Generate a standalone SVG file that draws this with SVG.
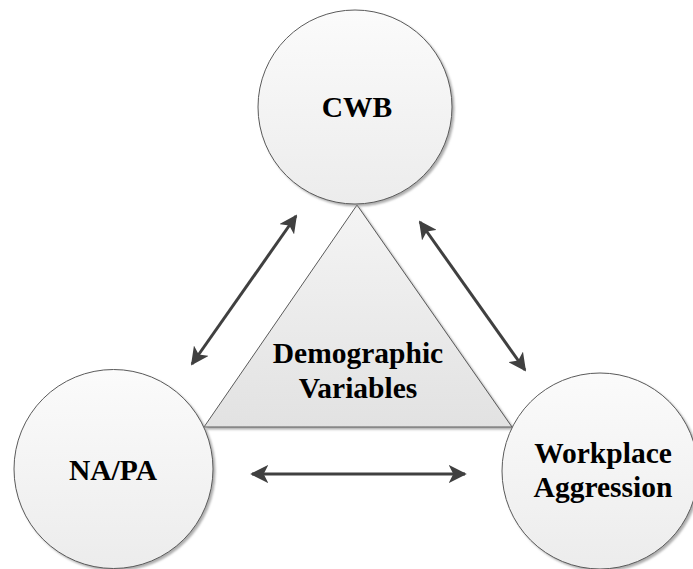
<svg xmlns="http://www.w3.org/2000/svg" width="693" height="569" viewBox="0 0 693 569">
<style>
.node{stroke:#5a5a5a;stroke-width:1}
.circ{fill:url(#gc)}
.tri{fill:url(#gt)}
.lbl{font-family:"Liberation Serif","Times New Roman",serif;font-weight:bold;font-size:29.5px;fill:#000;text-anchor:middle}
.conn{stroke:#404040;stroke-width:3;fill:none;marker-start:url(#ah);marker-end:url(#ah)}
</style>
<defs>
<linearGradient id="gc" x1="0" y1="0" x2="0" y2="1">
<stop offset="0" stop-color="#fbfbfb"/>
<stop offset="1" stop-color="#ececec"/>
</linearGradient>
<linearGradient id="gt" x1="0" y1="0" x2="0" y2="1">
<stop offset="0" stop-color="#f4f4f4"/>
<stop offset="1" stop-color="#e2e2e2"/>
</linearGradient>
<filter id="sh" x="-10%" y="-10%" width="125%" height="125%">
<feDropShadow dx="2" dy="2" stdDeviation="1.2" flood-color="#8a8a8a" flood-opacity="0.7"/>
</filter>
<marker id="ah" viewBox="0 0 20 20" refX="18" refY="10" markerWidth="6" markerHeight="6" orient="auto-start-reverse" markerUnits="strokeWidth">
<path d="M0,0 L20,10 L0,20 L5,10 Z" fill="#404040"/>
</marker>
</defs>
<g id="demographic">
<polygon class="node tri" filter="url(#sh)" points="357,205 512,427 204,427"/>
<text class="lbl" x="358" y="363">Demographic</text>
<text class="lbl" x="358" y="398">Variables</text>
</g>
<g id="cwb">
<circle class="node circ" filter="url(#sh)" cx="355" cy="107" r="97"/>
<text class="lbl" x="357" y="117">CWB</text>
</g>
<g id="napa">
<circle class="node circ" filter="url(#sh)" cx="113.5" cy="469" r="99.5"/>
<text class="lbl" x="113" y="480">NA/PA</text>
</g>
<g id="workplace">
<circle class="node circ" filter="url(#sh)" cx="600" cy="471" r="98"/>
<text class="lbl" x="603" y="463">Workplace</text>
<text class="lbl" x="603" y="497">Aggression</text>
</g>
<g id="connectors">
<line class="conn" x1="192" y1="364" x2="296" y2="216"/>
<line class="conn" x1="420" y1="222" x2="525" y2="370"/>
<line class="conn" x1="252" y1="474" x2="465" y2="474"/>
</g>
</svg>
